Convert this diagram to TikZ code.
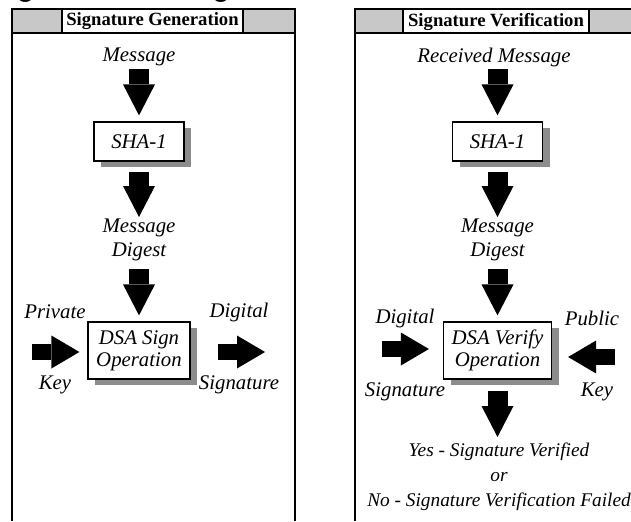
\documentclass[tikz,border=0pt]{standalone}
\usepackage{fontspec}
\setmainfont{Liberation Serif}
\setsansfont{Liberation Sans}
\usetikzlibrary{arrows.meta,shadows}
\definecolor{cellgray}{RGB}{200,200,200}
\definecolor{shadowgray}{RGB}{140,140,140}

\begin{document}
\begin{tikzpicture}[x=0.75pt,y=-0.75pt,line join=miter,
  frame/.style={draw=black,line width=0.9pt},
  hdr/.style={font=\fontsize{14}{14}\selectfont\bfseries,inner sep=0pt},
  lbl/.style={font=\fontsize{15.6}{18}\selectfont\itshape,align=center,inner sep=0pt},
  opbox/.style={draw,fill=white,line width=0.9pt,align=center,inner sep=0pt,
    font=\fontsize{15.6}{16.5}\selectfont\itshape,minimum height=29.25pt,
    drop shadow={shadow xshift=5.25pt,shadow yshift=-4.5pt,fill=shadowgray,opacity=1}},
  varrow/.style={line width=15pt,-{Triangle[length=23.25pt,width=24pt,line width=0pt]}},
  harrow/.style={line width=12pt,-{Triangle[length=21pt,width=24.75pt,line width=0pt]}}]
 \path[use as bounding box] (0,0) rectangle (631,521);
 \clip (0,0) rectangle (631,521);
 % Title, cut off at the top edge.
 \node[anchor=base west,inner sep=0pt,font=\fontsize{21}{21}\selectfont\bfseries\sffamily]
  (title) at (-8,-3.5) {Figure 1: DSS Signature Generation and Verification};
 % Two panels with their header bars.
 \fill[cellgray] (12,9) rectangle (62,33) (243,9) rectangle (295,33);
 \fill[cellgray] (355,9) rectangle (403,33) (589,9) rectangle (638,33);
 \draw[frame] (12,521) -- (12,9) -- (295,9) -- (295,521);
 \draw[frame] (12,33) -- (295,33) (62,9) -- (62,33) (243,9) -- (243,33);
 \draw[frame] (355,521) -- (355,9) -- (638,9) -- (638,521);
 \draw[frame] (355,33) -- (638,33) (403,9) -- (403,33) (589,9) -- (589,33);
 \node[hdr] (hdrL) at (152.5,21.5) {Signature Generation};
 \node[hdr] (hdrR) at (496,21.5) {Signature Verification};
 % Signing side.
 \node[lbl] (msgL) at (139,57) {Message};
 \node[opbox,minimum width=67.5pt] (shaL) at (139,141.5) {SHA-1};
 \node[lbl] (digL) at (139,240) {Message\\Digest};
 \node[opbox,minimum width=76.5pt,minimum height=42.75pt] (signL) at (139,350.5) {DSA Sign\\Operation};
 \node[lbl] (prvA) at (55,312) {Private};
 \node[lbl] (prvB) at (55,385) {Key};
 \node[lbl] (dsgA) at (239,312) {Digital};
 \node[lbl] (dsgB) at (239,385) {Signature};
 \coordinate (pkL) at (32,352);
 \coordinate (dsL) at (265,352);
 \draw[varrow,shorten <=9pt,shorten >=4.5pt] (msgL.center) -- (shaL.north);
 \draw[varrow,shorten <=7.5pt,shorten >=17.25pt] (shaL.south) -- (digL.center);
 \draw[varrow,shorten <=21.75pt,shorten >=4.5pt] (digL.center) -- (signL.north);
 \draw[harrow,shorten >=6pt] (pkL) -- (signL.west |- pkL);
 \draw[harrow,shorten <=20.25pt] (signL.east |- dsL) -- (dsL);
 % Verifying side.
 \node[lbl] (msgR) at (494,57) {Received Message};
 \node[opbox,minimum width=67.5pt] (shaR) at (497.5,141.5) {SHA-1};
 \node[lbl] (digR) at (497.5,240) {Message\\Digest};
 \node[opbox,minimum width=81pt,minimum height=42.75pt] (verR) at (497.5,350.5) {DSA Verify\\Operation};
 \node[lbl] (dsgC) at (405,318) {Digital};
 \node[lbl] (dsgD) at (405,392) {Signature};
 \node[lbl] (pubA) at (592,318) {Public};
 \node[lbl] (pubB) at (597,392) {Key};
 \node[lbl,font=\fontsize{14.5}{18.75}\selectfont\itshape] (resR) at (499,477)
  {Yes - Signature Verified\\or\\No - Signature Verification Failed};
 \coordinate (dsR) at (382,349);
 \coordinate (pkR) at (615,357);
 \draw[varrow,shorten <=9pt,shorten >=4.5pt] (shaR.north |- msgR.center) -- (shaR.north);
 \draw[varrow,shorten <=7.5pt,shorten >=17.25pt] (shaR.south) -- (digR.center);
 \draw[varrow,shorten <=21.75pt,shorten >=4.5pt] (digR.center) -- (verR.north);
 \draw[harrow,shorten >=10.5pt] (dsR) -- (verR.west |- dsR);
 \draw[harrow,shorten >=12pt] (pkR) -- (verR.east |- pkR);
 \draw[varrow,shorten <=8.25pt,shorten >=30pt] (verR.south) -- (verR.south |- resR.center);
\end{tikzpicture}
\end{document}
